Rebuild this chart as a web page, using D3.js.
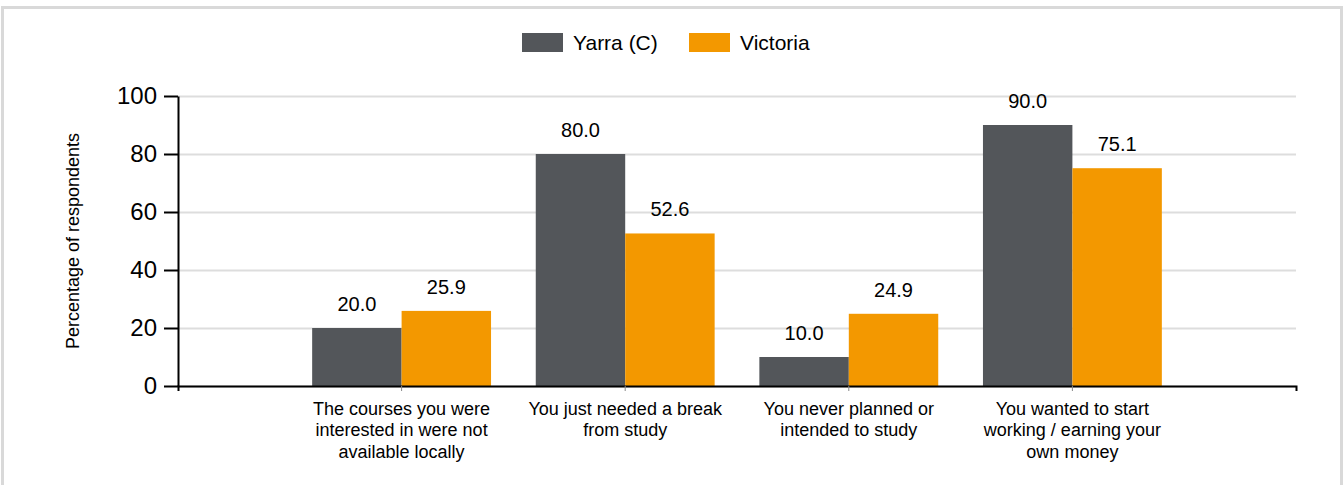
<html>
  <head>
    <script src="https://d3js.org/d3.v7.min.js"></script>
  </head>
  <style type="text/css">
    body { margin: 0; background: #fff; }
    svg { font-family: "Liberation Sans", Arial, sans-serif; }
    .grid line { stroke: #dddddd; stroke-width: 2; }
    .grid path { display: none; }
    .y.axis path, .y.axis line { stroke: #000; stroke-width: 2; }
    .x.axis path { stroke: #000; stroke-width: 2; }
    .x.axis line { stroke: #888; }
  </style>
  <body>
    <div id="chart"></div>
  </body>
  <script type="text/javascript">
    var categories = [
      "The courses you were interested in were not available locally",
      "You just needed a break from study",
      "You never planned or intended to study",
      "You wanted to start working / earning your own money"
    ];
    var seriesNames = ["Yarra (C)", "Victoria"];
    var yarra = [20.0, 80.0, 10.0, 90.0];
    var victoria = [25.9, 52.6, 24.9, 75.1];
    var yTicks = [0, 20, 40, 60, 80, 100];
    var colors = ["#53565a", "#f39800"];

    var width = 1344, height = 485;
    var plotLeft = 178, plotRight = 1296, plotTop = 96, plotBottom = 386;

    var svg = d3.select("#chart").append("svg")
      .attr("width", width)
      .attr("height", height);

    // outer frame
    svg.append("rect")
      .attr("x", 2.5).attr("y", 7.5)
      .attr("width", 1339).attr("height", 500)
      .attr("fill", "none")
      .attr("stroke", "#d9d9d9")
      .attr("stroke-width", 3);

    var x = d3.scaleBand()
      .domain(categories)
      .range([plotLeft, plotRight])
      .paddingInner(0)
      .paddingOuter(0.5);

    var y = d3.scaleLinear()
      .domain([0, 100])
      .range([plotBottom, plotTop]);

    var data = categories.map(function(c, i) {
      return {cat: c, values: [yarra[i], victoria[i]]};
    });

    /* grid */
    svg.append("g")
      .attr("class", "grid")
      .attr("transform", `translate(${plotLeft},0)`)
      .call(d3.axisLeft(y).tickValues(yTicks).tickSize(-(plotRight - plotLeft)).tickFormat(""));

    /* bars */
    var barW = x.step() * 0.4;
    var groups = svg.append("g").selectAll("g")
      .data(data).enter()
      .append("g")
      .attr("transform", d => `translate(${x(d.cat) + x.bandwidth() / 2},0)`);

    groups.selectAll("rect")
      .data(d => d.values).enter()
      .append("rect")
      .attr("x", (d, i) => i === 0 ? -barW : 0)
      .attr("y", d => y(d))
      .attr("width", barW)
      .attr("height", d => y(0) - y(d))
      .attr("fill", (d, i) => colors[i]);

    groups.selectAll("text")
      .data(d => d.values).enter()
      .append("text")
      .attr("x", (d, i) => i === 0 ? -barW / 2 : barW / 2)
      .attr("y", d => y(d) - 17)
      .attr("text-anchor", "middle")
      .attr("font-size", "20px")
      .attr("fill", "#000")
      .text(d => d.toFixed(1));

    /* axes */
    var yAxis = svg.append("g")
      .attr("class", "y axis")
      .attr("transform", `translate(${plotLeft},0)`)
      .call(d3.axisLeft(y).tickValues(yTicks).tickSize(14).tickSizeOuter(0).tickPadding(7));
    yAxis.selectAll("text")
      .attr("font-size", "24px")
      .attr("fill", "#000")
      .attr("font-family", "'Liberation Sans', Arial, sans-serif");

    var xAxis = svg.append("g")
      .attr("class", "x axis")
      .attr("transform", `translate(0,${plotBottom})`)
      .call(d3.axisBottom(x).tickSize(5).tickSizeOuter(5).tickFormat(""));

    function wrap(text, maxW) {
      var words = text.split(" "), lines = [], cur = "";
      var ctx = document.createElement("canvas").getContext("2d");
      ctx.font = "18px 'Liberation Sans', Arial";
      words.forEach(function(w) {
        var t = cur ? cur + " " + w : w;
        if (ctx.measureText(t).width > maxW && cur) { lines.push(cur); cur = w; }
        else cur = t;
      });
      lines.push(cur);
      return lines;
    }

    var labels = svg.append("g").selectAll("text")
      .data(categories).enter()
      .append("text")
      .attr("x", d => x(d) + x.bandwidth() / 2)
      .attr("y", plotBottom + 29)
      .attr("text-anchor", "middle")
      .attr("font-size", "18px")
      .attr("fill", "#000");
    labels.each(function(d) {
      var el = d3.select(this);
      wrap(d, 205).forEach(function(line, i) {
        el.append("tspan")
          .attr("x", x(d) + x.bandwidth() / 2)
          .attr("dy", i === 0 ? 0 : 21.3)
          .text(line);
      });
    });

    /* y title */
    svg.append("text")
      .attr("transform", `translate(79,${(plotTop + plotBottom) / 2}) rotate(-90)`)
      .attr("text-anchor", "middle")
      .attr("font-size", "18px")
      .attr("fill", "#000")
      .text("Percentage of respondents");

    /* legend */
    var legendX = [522, 689];
    var legend = svg.append("g").selectAll("g")
      .data(seriesNames).enter()
      .append("g")
      .attr("transform", (d, i) => `translate(${legendX[i]},33)`);
    legend.append("rect")
      .attr("width", 41).attr("height", 19)
      .attr("fill", (d, i) => colors[i]);
    legend.append("text")
      .attr("x", 51).attr("y", 17)
      .attr("font-size", "21px")
      .attr("fill", "#000")
      .text(d => d);
  </script>
</html>
